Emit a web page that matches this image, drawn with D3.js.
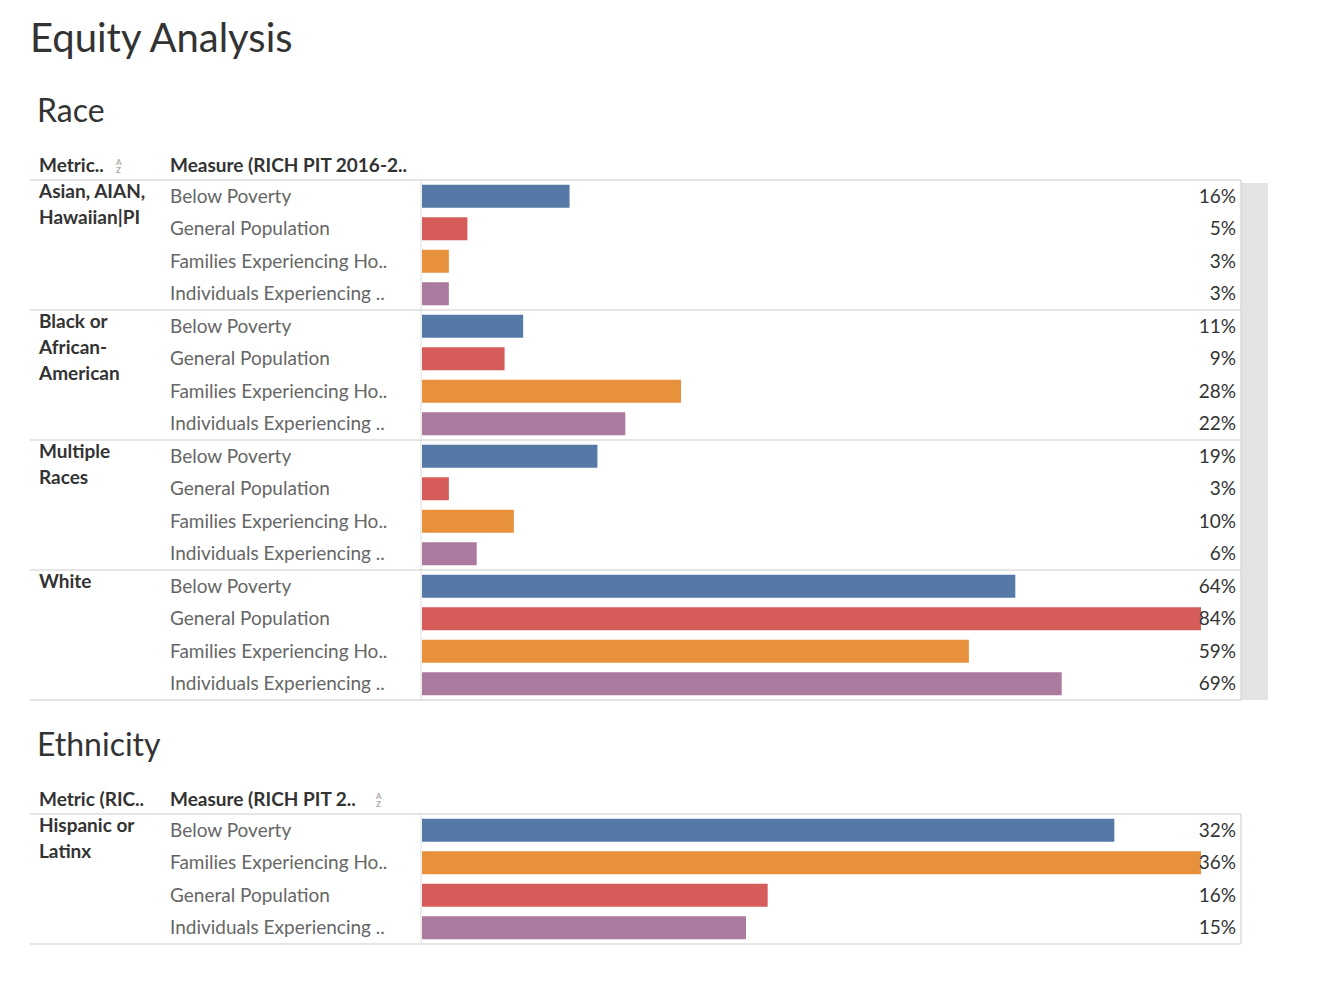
<!DOCTYPE html>
<html><head><meta charset="utf-8">
<script src="https://cdn.jsdelivr.net/npm/d3@7"></script>
<style>body{margin:0;background:#fff;font-family:Lato,"Open Sans",sans-serif}</style>
</head><body><svg id="c" width="1332" height="1000"></svg>
<script>
var raceGroups = [['Asian, AIAN,', 'Hawaiian|PI'], ['Black or', 'African-', 'American'], ['Multiple', 'Races'], ['White']];
var raceMeasures = ['Below Poverty', 'General Population', 'Families Experiencing Ho..', 'Individuals Experiencing ..'];
var raceValues = [[16, 5, 3, 3], [11, 9, 28, 22], [19, 3, 10, 6], [64, 84, 59, 69]];
var ethGroups = [['Hispanic or', 'Latinx']];
var ethMeasures = ['Below Poverty', 'Families Experiencing Ho..', 'General Population', 'Individuals Experiencing ..'];
var ethValues = [[32, 36, 16, 15]];
var colorOf = {'Below Poverty': '#5479a6', 'General Population': '#d65c5a', 'Families Experiencing Ho..': '#e8913c', 'Individuals Experiencing ..': '#ad7a9f'};

var svg = d3.select('#c');
svg.append('text').attr('x', 30).attr('y', 52).attr('font-size', 40).attr('fill', '#333').text('Equity Analysis');

function sortIcon(x, y) {
  var g = svg.append('g').attr('transform', 'translate(' + x + ',' + y + ')').attr('fill', '#aaa').attr('font-size', 8).attr('font-weight', 'bold');
  g.append('text').attr('y', -7).text('A');
  g.append('text').attr('y', 1).text('Z');
}

function table(title, titleY, headY, top, groups, measures, values, maxV, h1, h2, icon1, icon2, scroll) {
  svg.append('text').attr('x', 37).attr('y', titleY).attr('font-size', 32).attr('fill', '#333').text(title);
  svg.append('text').attr('x', 39).attr('y', headY).attr('font-size', 19).attr('font-weight', 'bold').attr('fill', '#333').text(h1);
  svg.append('text').attr('x', 170).attr('y', headY).attr('font-size', 19).attr('font-weight', 'bold').attr('fill', '#333').text(h2);
  if (icon1) sortIcon(icon1, headY);
  if (icon2) sortIcon(icon2, headY);
  var rowH = 32.5, left = 421, right = 1241;
  var x = d3.scaleLinear().domain([0, maxV]).range([left, 1201]);
  var bottom = top + groups.length * 4 * rowH;
  if (scroll) svg.append('rect').attr('x', right).attr('y', top + 3).attr('width', 27).attr('height', bottom - top - 3).attr('fill', '#e3e3e3');
  svg.append('line').attr('x1', 30).attr('x2', right).attr('y1', top).attr('y2', top).attr('stroke', '#ccc');
  svg.append('line').attr('x1', left).attr('x2', left).attr('y1', top).attr('y2', bottom).attr('stroke', '#ddd');
  svg.append('line').attr('x1', right).attr('x2', right).attr('y1', top).attr('y2', bottom).attr('stroke', '#ccc');
  groups.forEach(function (g, gi) {
    var gy = top + gi * 4 * rowH;
    svg.append('line').attr('x1', 30).attr('x2', right).attr('y1', gy + 4 * rowH).attr('y2', gy + 4 * rowH).attr('stroke', '#ccc');
    g.forEach(function (l, li) {
      svg.append('text').attr('x', 39).attr('y', gy + 18 + li * 26).attr('font-size', 19).attr('font-weight', 'bold').attr('fill', '#333').text(l);
    });
    measures.forEach(function (m, mi) {
      var cy = gy + mi * rowH + rowH / 2;
      svg.append('text').attr('x', 170).attr('y', cy + 6.5).attr('font-size', 19).attr('fill', '#666').text(m);
      svg.append('rect').attr('x', left + 1).attr('y', cy - 11.5).attr('width', x(values[gi][mi]) - left - 1).attr('height', 23).attr('fill', colorOf[m]);
      svg.append('text').attr('x', 1236).attr('y', cy + 6.5).attr('text-anchor', 'end').attr('font-size', 19).attr('fill', '#333').text(values[gi][mi] + '%');
    });
  });
}

table('Race', 122, 172, 180, raceGroups, raceMeasures, raceValues, 84, 'Metric..', 'Measure (RICH PIT 2016-2..', 116, null, true);
table('Ethnicity', 756, 806, 814, ethGroups, ethMeasures, ethValues, 36, 'Metric (RIC..', 'Measure (RICH PIT 2..', null, 376, false);
</script></body></html>
